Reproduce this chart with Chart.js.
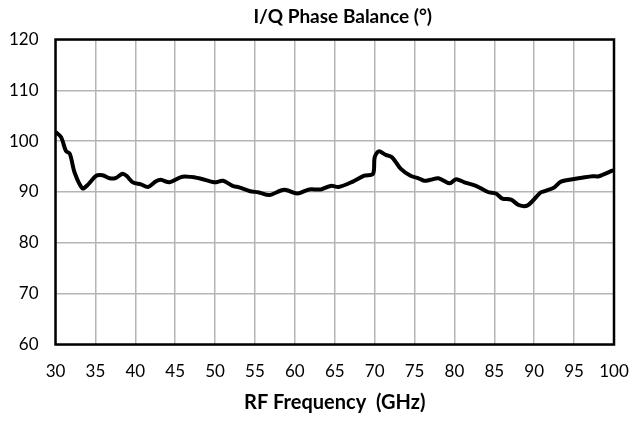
<!DOCTYPE html>
<html>
<head>
<meta charset="utf-8">
<script src="https://cdn.jsdelivr.net/npm/chart.js"></script>
<style>
  html, body { margin: 0; padding: 0; background: #fff; }
  #wrap { width: 631px; height: 421px; }
</style>
</head>
<body>
<div id="wrap"><canvas id="phase"></canvas></div>
<script>
// values
const freqGHz = [30.0, 30.7, 31.3, 31.8, 32.4, 33.4, 34.1, 35.1, 35.9, 36.8, 37.6, 38.4, 38.9, 39.7,
  40.7, 41.6, 42.6, 43.2, 44.3, 45.9, 48.0, 49.9, 51.0, 52.2, 53.0, 54.3, 55.5, 56.8, 58.25, 58.9,
  60.3, 61.8, 63.25, 64.5, 65.5, 67.2, 68.7, 69.8, 70.0, 70.5, 71.4, 72.2, 73.25, 74.5, 75.5, 76.2,
  77.0, 78.0, 79.4, 80.2, 81.25, 82.7, 84.2, 85.2, 86.0, 87.1, 88.1, 89.2, 90.8, 91.4, 92.5, 93.3,
  94.8, 96.0, 97.3, 98.1, 99.8, 100.0];
const phaseDeg = [101.8, 100.8, 98.1, 97.5, 93.8, 90.7, 91.5, 93.2, 93.3, 92.7, 92.8, 93.6, 93.2, 91.9,
  91.5, 91.0, 92.1, 92.4, 91.9, 93.0, 92.7, 91.9, 92.2, 91.2, 90.9, 90.2, 89.9, 89.4, 90.3, 90.4,
  89.7, 90.5, 90.5, 91.2, 91.0, 92.0, 93.2, 93.6, 96.8, 98.0, 97.3, 96.8, 94.6, 93.2, 92.7, 92.2,
  92.4, 92.7, 91.7, 92.5, 91.9, 91.2, 90.0, 89.7, 88.7, 88.5, 87.4, 87.4, 89.9, 90.2, 90.9, 92.0,
  92.5, 92.8, 93.1, 93.1, 94.2, 94.3];
const xTicks = [30, 35, 40, 45, 50, 55, 60, 65, 70, 75, 80, 85, 90, 95, 100];
const yTicks = [60, 70, 80, 90, 100, 110, 120];

const chartTitle = 'I/Q Phase Balance (°)';
const xTitle = 'RF Frequency  (GHz)';

const FONT = 'Lato, "Open Sans", sans-serif';

// box around the plot + title slightly right of centre like the original
const framePlugin = {
  id: 'frame',
  afterDraw(chart) {
    const { ctx, chartArea: a } = chart;
    ctx.save();
    ctx.strokeStyle = '#000';
    ctx.lineWidth = 2.5;
    ctx.strokeRect(a.left, a.top, a.right - a.left, a.bottom - a.top);
    ctx.fillStyle = '#000';
    ctx.font = 'bold 19px ' + FONT;
    ctx.textAlign = 'center';
    ctx.textBaseline = 'middle';
    ctx.fillText(chartTitle, (a.left + a.right) / 2 + 8, 17);
    ctx.restore();
  }
};

const points = freqGHz.map((f, i) => ({ x: f, y: phaseDeg[i] }));

new Chart(document.getElementById('phase'), {
  type: 'line',
  data: {
    datasets: [{
      data: points,
      borderColor: '#000',
      borderWidth: 4,
      pointRadius: 0,
      tension: 0.3,
      fill: false
    }]
  },
  options: {
    responsive: true,
    maintainAspectRatio: false,
    animation: false,
    layout: { padding: { left: 0, right: 17, top: 39.5, bottom: 0 } },
    plugins: {
      legend: { display: false },
      title: { display: false },
      tooltip: { enabled: false }
    },
    scales: {
      x: {
        type: 'linear',
        min: 30,
        max: 100,
        afterBuildTicks(scale) { scale.ticks = xTicks.map(v => ({ value: v })); },
        afterFit(scale) {
          scale.height = 76.5;
          scale.paddingLeft = 0;
          scale.paddingRight = 0;
        },
        ticks: { color: '#000', font: { family: FONT, size: 17 }, padding: 17, maxRotation: 0 },
        grid: { color: '#b5b5b5', lineWidth: 1.5, drawTicks: false },
        border: { display: false },
        title: {
          display: true,
          text: xTitle,
          color: '#000',
          font: { family: FONT, size: 20, weight: 'bold' },
          padding: { top: 0, bottom: 6 }
        }
      },
      y: {
        min: 60,
        max: 120,
        afterBuildTicks(scale) { scale.ticks = yTicks.map(v => ({ value: v })); },
        afterFit(scale) {
          scale.width = 55.5;
          scale.paddingTop = 0;
          scale.paddingBottom = 0;
        },
        ticks: { color: '#000', font: { family: FONT, size: 17 }, padding: 17 },
        grid: { color: '#b5b5b5', lineWidth: 1.5, drawTicks: false },
        border: { display: false }
      }
    }
  },
  plugins: [framePlugin]
});
</script>
</body>
</html>
